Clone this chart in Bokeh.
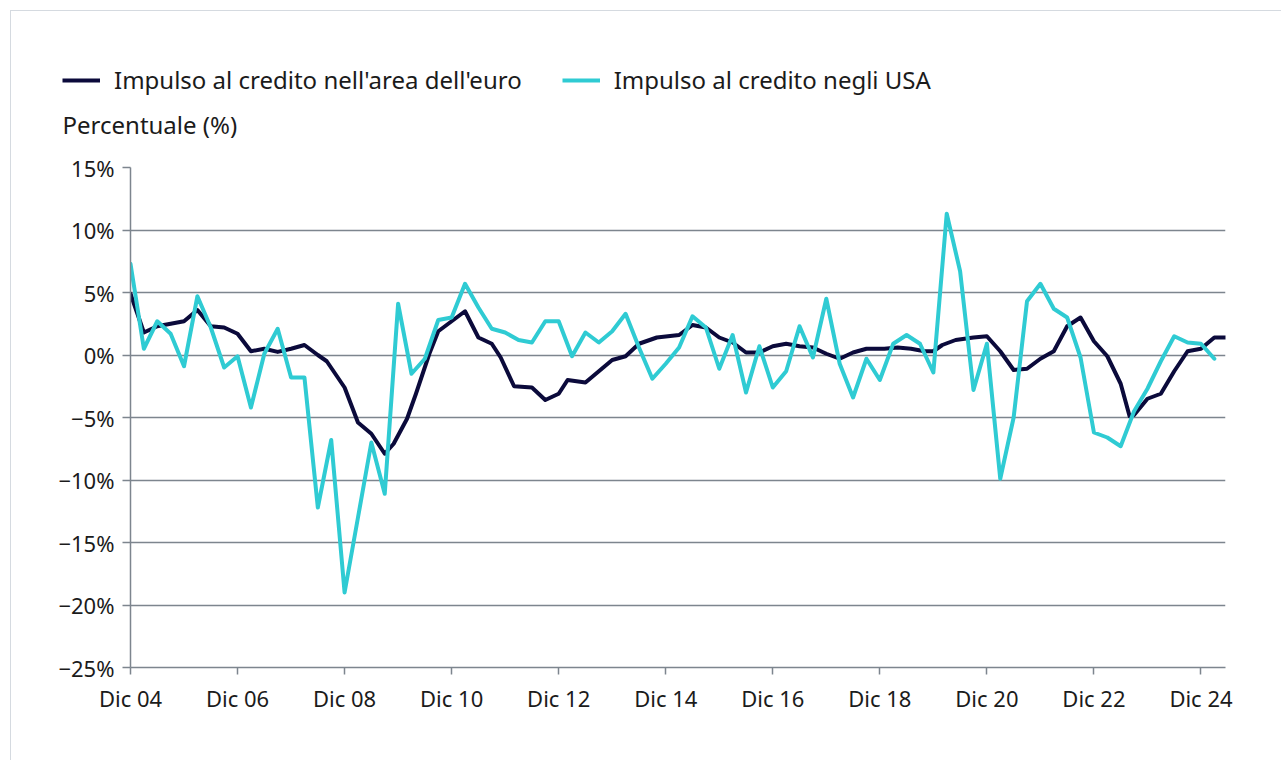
from bokeh.plotting import figure
from bokeh.layouts import column
from bokeh.models import ColumnDataSource, FixedTicker, Legend, LegendItem, Label, Range1d
from bokeh.embed import file_html
from bokeh.resources import INLINE

# months since Dec 2004
euro_month = [0, 3, 6, 9, 12, 15, 18, 21, 24, 27, 30, 33, 36, 39, 42, 44, 48, 51, 54, 57, 59, 62, 64, 67, 69, 72, 75,
              78, 81, 83, 86, 90, 93, 96, 98, 102, 105, 108, 111, 114, 118, 123, 126, 129, 132, 135, 138, 141, 144,
              147, 150, 153, 156, 159, 162, 165, 169, 172, 175, 178, 180, 182, 185, 189, 192, 195, 198, 201, 204,
              207, 210, 213, 216, 219, 222, 224, 225, 228, 231, 234, 237, 240, 243, 246]
euro_value = [4.9, 1.8, 2.3, 2.5, 2.7, 3.6, 2.3, 2.2, 1.7, 0.3, 0.5, 0.25, 0.5, 0.8, 0.0, -0.5, -2.6, -5.4, -6.3, -7.9,
              -7.1, -5.1, -3.1, 0.1, 1.9, 2.7, 3.5, 1.4, 0.9, -0.2, -2.5, -2.6, -3.6, -3.1, -2.0, -2.2, -1.3, -0.4,
              -0.1, 0.9, 1.4, 1.6, 2.4, 2.2, 1.4, 1.0, 0.2, 0.2, 0.7, 0.9, 0.7, 0.6, 0.1, -0.3, 0.2, 0.5, 0.5, 0.6,
              0.5, 0.3, 0.3, 0.8, 1.2, 1.4, 1.5, 0.3, -1.2, -1.1, -0.3, 0.3, 2.3, 3.0, 1.1, -0.1, -2.3, -4.9, -4.8,
              -3.5, -3.1, -1.3, 0.3, 0.5, 1.4, 1.4]

usa_month = [0, 3, 6, 9, 12, 15, 18, 21, 24, 27, 30, 33, 36, 39, 42, 45, 48, 51, 54, 57, 60, 63, 66, 69, 72, 75, 78,
             81, 84, 87, 90, 93, 96, 99, 102, 105, 108, 111, 114, 117, 120, 123, 126, 129, 132, 135, 138, 141, 144,
             147, 150, 153, 156, 159, 162, 165, 168, 171, 174, 177, 180, 183, 186, 189, 192, 195, 198, 201, 204,
             207, 210, 213, 216, 219, 222, 225, 228, 231, 234, 237, 240, 243]
usa_value = [7.3, 0.5, 2.7, 1.7, -0.9, 4.7, 2.2, -1.0, -0.1, -4.2, 0.1, 2.1, -1.8, -1.8, -12.2, -6.8, -19.0, -13.0,
             -7.0, -11.1, 4.1, -1.5, -0.3, 2.8, 3.0, 5.7, 3.8, 2.1, 1.8, 1.2, 1.0, 2.7, 2.7, -0.1, 1.8, 1.0, 1.9, 3.3,
             0.6, -1.9, -0.7, 0.6, 3.1, 2.2, -1.1, 1.6, -3.0, 0.7, -2.6, -1.3, 2.3, -0.2, 4.5, -0.7, -3.4, -0.3,
             -2.0, 0.9, 1.6, 0.9, -1.4, 11.3, 6.7, -2.8, 0.9, -9.9, -5.0, 4.3, 5.7, 3.7, 3.0, -0.2, -6.2, -6.6,
             -7.3, -4.5, -2.7, -0.5, 1.5, 1.0, 0.9, -0.3]

x_ticks = [0, 24, 48, 72, 96, 120, 144, 168, 192, 216, 240]
x_tick_labels = ["Dic 04", "Dic 06", "Dic 08", "Dic 10", "Dic 12", "Dic 14", "Dic 16", "Dic 18", "Dic 20",
                 "Dic 22", "Dic 24"]
y_ticks = [-25, -20, -15, -10, -5, 0, 5, 10, 15]
y_tick_labels = ["\u221225%", "\u221220%", "\u221215%", "\u221210%", "\u22125%", "0%", "5%", "10%", "15%"]

series_names = ["Impulso al credito nell'area dell'euro", "Impulso al credito negli USA"]
unit_label = "Percentuale (%)"

FONT = "Noto Sans"
FS = "22px"
FS_HEAD = "24px"
GRID = "#7d858e"
TXT = "#1b1b1b"
NAVY = "#0b0a3b"
CYAN = "#2fcbd3"

NAN = float("nan")

# ---------- header (legend + unit label) ----------
head = figure(width=1270, height=139, output_backend="svg", toolbar_location=None,
              x_axis_location=None, y_axis_location=None, min_border=0,
              x_range=Range1d(0, 1), y_range=Range1d(0, 1))
head.frame_align = False
head.outline_line_color = None
head.grid.grid_line_color = None
# swatch-only renderers (no visible data), used for the legend keys
h_e = head.line(x="x", y="y", source=ColumnDataSource(dict(x=[NAN], y=[NAN])), line_color=NAVY, line_width=4)
h_u = head.line(x="x", y="y", source=ColumnDataSource(dict(x=[NAN], y=[NAN])), line_color=CYAN, line_width=4)
legend = Legend(items=[LegendItem(label=series_names[0], renderers=[h_e]),
                       LegendItem(label=series_names[1], renderers=[h_u])],
                orientation="horizontal", location=(51, 54),
                label_text_font=FONT, label_text_font_size=FS_HEAD, label_text_color=TXT,
                glyph_width=38, glyph_height=26, label_height=26, label_standoff=14, spacing=40,
                padding=0, margin=0, border_line_color=None, background_fill_alpha=0)
head.add_layout(legend, "center")
head.add_layout(Label(x=51, y=26, x_units="screen", y_units="screen", text=unit_label,
                      text_baseline="middle", text_font=FONT, text_font_size=FS_HEAD, text_color=TXT))

# ---------- main chart ----------
p = figure(width=1270, height=610, output_backend="svg", toolbar_location=None,
           x_range=Range1d(0, 245.5), y_range=Range1d(-25, 15),
           min_border_left=119, min_border_right=56, min_border_top=17, min_border_bottom=93)
p.frame_align = False
p.outline_line_color = None

src_e = ColumnDataSource(dict(x=euro_month, y=euro_value))
src_u = ColumnDataSource(dict(x=usa_month, y=usa_value))
p.line("x", "y", source=src_e, line_color=NAVY, line_width=4, line_join="round", line_cap="round")
p.line("x", "y", source=src_u, line_color=CYAN, line_width=4, line_join="round", line_cap="round")

p.xaxis.ticker = FixedTicker(ticks=x_ticks)
p.xaxis.major_label_overrides = {t: l for t, l in zip(x_ticks, x_tick_labels)}
p.yaxis.ticker = FixedTicker(ticks=y_ticks)
p.yaxis.major_label_overrides = {t: l for t, l in zip(y_ticks, y_tick_labels)}
for ax in (p.xaxis, p.yaxis):
    ax.axis_line_color = GRID
    ax.axis_line_width = 1.5
    ax.major_tick_line_color = GRID
    ax.major_tick_line_width = 1.5
    ax.minor_tick_line_color = None
    ax.major_label_text_font = FONT
    ax.major_label_text_font_size = FS
    ax.major_label_text_color = TXT
p.xaxis.major_tick_in = 0
p.xaxis.major_tick_out = 7
p.xaxis.major_label_standoff = 8
p.yaxis.major_tick_in = 0
p.yaxis.major_tick_out = 8
p.yaxis.major_label_standoff = 8

p.xgrid.grid_line_color = None
p.ygrid.ticker = FixedTicker(ticks=y_ticks)
p.ygrid.grid_line_color = GRID
p.ygrid.grid_line_width = 1.5

layout = column(head, p, spacing=0)
layout.styles = {"border": "1px solid #d5dae0", "margin-left": "10px", "margin-top": "10px",
                 "background-color": "white"}

open("out.html", "w").write(file_html(layout, INLINE))
